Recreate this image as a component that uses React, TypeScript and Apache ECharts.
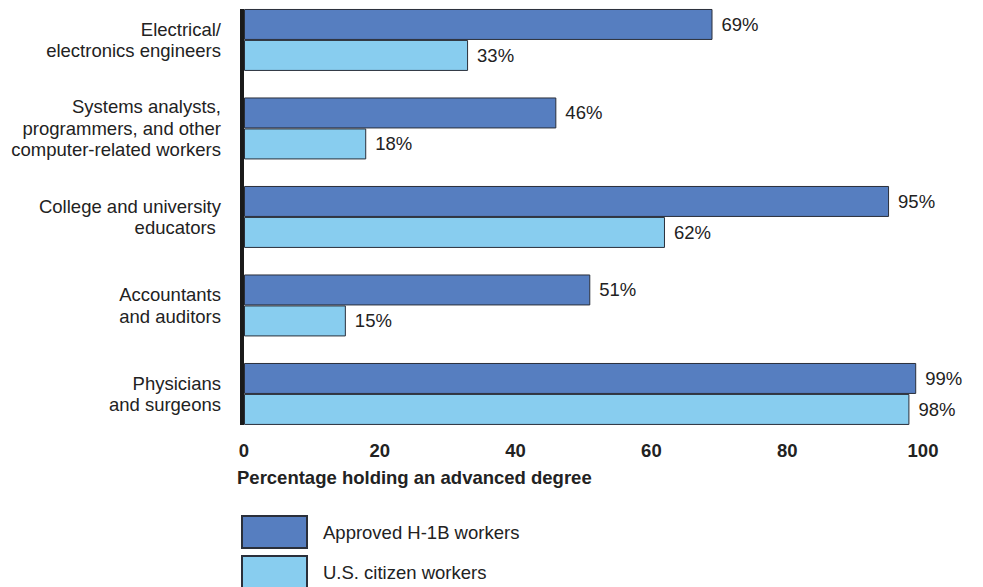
import React, { useEffect, useRef } from "react";
import * as echarts from "echarts";

const categories = [
  "Electrical/\nelectronics engineers",
  "Systems analysts,\nprogrammers, and other\ncomputer-related workers",
  "College and university\neducators ",
  "Accountants\nand auditors",
  "Physicians\nand surgeons",
];
const h1bValues = [69, 46, 95, 51, 99];
const citizenValues = [33, 18, 62, 15, 98];
const seriesNames = ["Approved H-1B workers", "U.S. citizen workers"];
const xTicks = [0, 20, 40, 60, 80, 100];
const axisTitle = "Percentage holding an advanced degree";

const FONT = "'Liberation Sans', Arial, Helvetica, sans-serif";
const FS = 18.5;
const SHIFT = 10; // chart div is moved up by this many pixels

export default function App() {
  const ref = useRef<HTMLDivElement>(null);
  useEffect(() => {
    if (!ref.current) return;
    const chart = echarts.init(ref.current, null, { renderer: "svg" });
    const labelCfg = {
      show: true,
      position: "right",
      distance: 9,
      fontSize: FS,
      fontFamily: FONT,
      color: "#222",
      formatter: (p: any) => `${p.value}%`,
    };
    const legendBase = {
      orient: "vertical",
      left: 241,
      itemWidth: 65,
      itemHeight: 32,
      icon: "rect",
      padding: 0,
      textStyle: {
        fontSize: FS,
        fontFamily: FONT,
        color: "#222",
        padding: [0, 0, 0, 11],
      },
    };
    chart.setOption({
      animation: false,
      backgroundColor: "#fff",
      grid: { left: 244, width: 679, top: SHIFT - 4.3, height: 442.5 },
      xAxis: {
        type: "value",
        min: xTicks[0],
        max: xTicks[xTicks.length - 1],
        interval: 20,
        axisLine: { show: false },
        axisTick: { show: false },
        splitLine: { show: false },
        axisLabel: {
          fontSize: FS,
          fontWeight: "bold",
          fontFamily: FONT,
          color: "#222",
          margin: 3,
        },
      },
      yAxis: {
        type: "category",
        data: categories,
        inverse: true,
        axisLine: { show: false },
        axisTick: { show: false },
        axisLabel: {
          fontSize: FS,
          fontFamily: FONT,
          color: "#222",
          margin: 23,
          lineHeight: 21.5,
          align: "right",
        },
      },
      legend: [
        { ...legendBase, top: SHIFT + 515, data: [seriesNames[0]] },
        { ...legendBase, top: SHIFT + 555, data: [seriesNames[1]] },
      ],
      series: [
        {
          name: seriesNames[0],
          type: "bar",
          data: h1bValues,
          barGap: "0%",
          barCategoryGap: "30%",
          itemStyle: { color: "#567EC0", borderColor: "#2a2f3a", borderWidth: 1 },
          label: labelCfg,
        },
        {
          name: seriesNames[1],
          type: "bar",
          data: citizenValues,
          barGap: "0%",
          barCategoryGap: "30%",
          itemStyle: { color: "#88CDEF", borderColor: "#2a2f3a", borderWidth: 1 },
          label: labelCfg,
        },
      ],
    });

    const y0 = chart.convertToPixel({ yAxisIndex: 0 }, 0) as number;
    const y1 = chart.convertToPixel({ yAxisIndex: 0 }, 1) as number;
    const yN = chart.convertToPixel({ yAxisIndex: 0 }, categories.length - 1) as number;
    const x0 = chart.convertToPixel({ xAxisIndex: 0 }, 0) as number;
    const band = y1 - y0;
    chart.setOption({
      graphic: [
        {
          type: "rect",
          shape: { x: x0 - 4, y: y0 - band * 0.35, width: 4, height: yN - y0 + band * 0.7 },
          style: { fill: "#1a1a1a" },
          z: 10,
        },
        {
          type: "text",
          left: 237,
          top: SHIFT + 468,
          style: {
            text: axisTitle,
            font: `bold ${FS}px ${FONT}`,
            fill: "#222",
          },
        },
      ],
    });

    return () => chart.dispose();
  }, []);
  return (
    <div
      ref={ref}
      style={{ position: "fixed", left: 0, top: -SHIFT, width: 983, height: 587 + SHIFT }}
    />
  );
}
